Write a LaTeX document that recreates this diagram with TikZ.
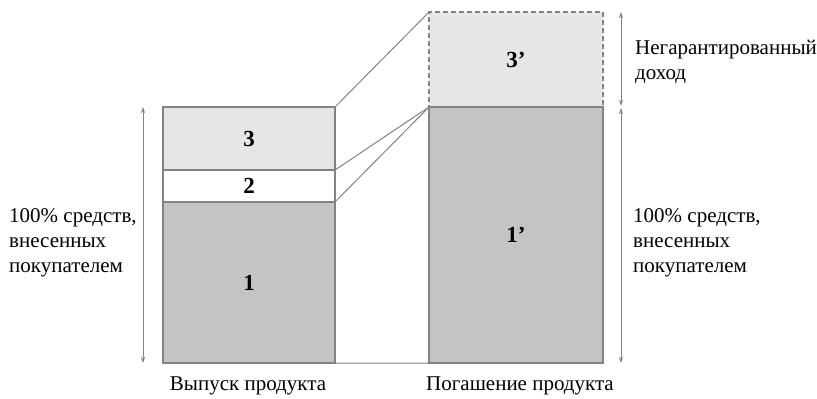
\documentclass[tikz,border=0pt]{standalone}
\usepackage{fontspec}
\setmainfont{Liberation Serif}
\usetikzlibrary{arrows.meta}
\definecolor{edge}{HTML}{838383}
\definecolor{lightfill}{HTML}{E6E6E6}
\definecolor{darkfill}{HTML}{C4C4C4}
\begin{document}
\begin{tikzpicture}[x=1bp,y=-1bp,
  every node/.style={font=\fontsize{21bp}{25bp}\selectfont},
  bar/.style={draw=edge, line width=1.1bp, inner sep=0pt, outer sep=0pt, anchor=north west, font=\fontsize{23bp}{25bp}\selectfont\bfseries},
  dashbar/.style={bar, dash pattern=on 5bp off 3bp},
  link/.style={draw=edge, line width=1bp},
  dim/.style={draw=edge, line width=1bp, {Stealth[length=6bp,width=4bp]}-{Stealth[length=6bp,width=4bp]}},
  txt/.style={align=left, anchor=west, inner sep=0pt}]
\useasboundingbox (0,0) rectangle (817,398);
% left bar
\node[bar, fill=lightfill, minimum width=172bp, minimum height=63bp] (b3) at (163,107) {3};
\node[bar, fill=white, minimum width=172bp, minimum height=32bp] (b2) at (163,170) {2};
\node[bar, fill=darkfill, minimum width=172bp, minimum height=161bp] (b1) at (163,202) {1};
% right bar
\node[dashbar, fill=lightfill, minimum width=174bp, minimum height=95bp] (c3) at (429,12) {3’};
\node[bar, fill=darkfill, minimum width=174bp, minimum height=256bp] (c1) at (429,107) {1’};
% connectors
\draw[link] (b3.north east) -- (c3.north west);
\draw[link] (b2.north east) -- (c1.north west);
\draw[link] (b1.north east) -- (c1.north west);
\draw[link] (b1.south east) -- (c1.south west);
% dimension arrows
\coordinate (la) at (143,107);
\coordinate (lb) at (143,363);
\draw[dim] (la) -- (lb);
\coordinate (ra) at (621,12);
\coordinate (rb) at (621,106);
\coordinate (rc) at (621,108);
\coordinate (rd) at (621,363);
\draw[dim] (ra) -- (rb);
\draw[dim] (rc) -- (rd);
% texts
\node[txt] (lt) at (9,243) {100\% средств,\\внесенных\\покупателем};
\node[txt] (rt) at (633,243) {100\% средств,\\внесенных\\покупателем};
\node[txt] (nt) at (635,62) {Негарантированный\\доход};
\node (x1) at (248,386) {Выпуск продукта};
\node (x2) at (520,386) {Погашение продукта};
\end{tikzpicture}
\end{document}
